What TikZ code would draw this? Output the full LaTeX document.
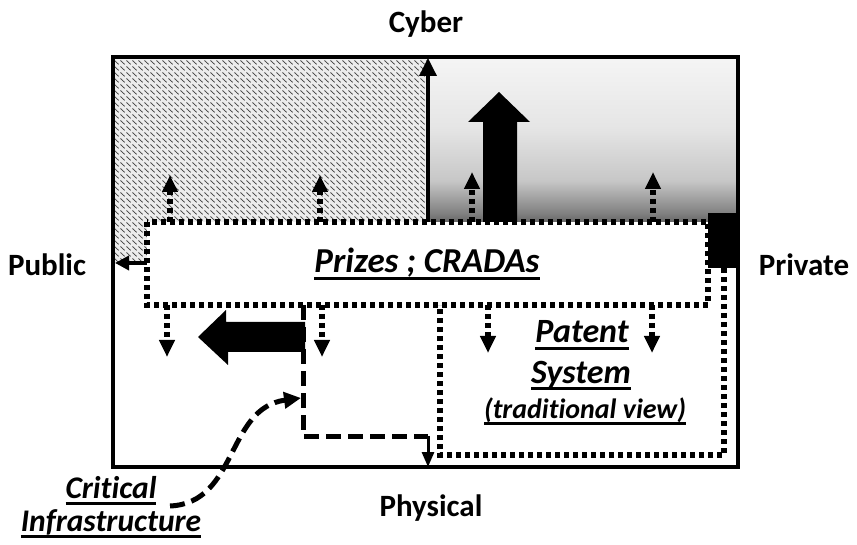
\documentclass[tikz,border=0pt]{standalone}
\usepackage{fontspec}
\setmainfont{Carlito}[Ligatures=NoCommon]
\usetikzlibrary{arrows.meta,patterns}

% wavy texture for the public/cyber quadrant
\pgfdeclarepatternformonly{squiggle}{\pgfpointorigin}{\pgfpoint{6pt}{6pt}}{\pgfpoint{6pt}{6pt}}{%
  \pgfsetlinewidth{0.9pt}%
  \pgfpathmoveto{\pgfpoint{0.5pt}{5.2pt}}%
  \pgfpathcurveto{\pgfpoint{2.2pt}{5.6pt}}{\pgfpoint{1.8pt}{2.6pt}}{\pgfpoint{3pt}{3pt}}%
  \pgfpathcurveto{\pgfpoint{4.2pt}{3.4pt}}{\pgfpoint{3.8pt}{0.4pt}}{\pgfpoint{5.5pt}{0.8pt}}%
  \pgfusepath{stroke}%
}

% dark band rising from the private/cyber quadrant floor
\pgfdeclareverticalshading{cybergrad}{100bp}{%
  color(0bp)=(black); color(24bp)=(black); color(30bp)=(black!85);
  color(37bp)=(black!50); color(45bp)=(black!22); color(58bp)=(black!10);
  color(75bp)=(black!4); color(88bp)=(white); color(100bp)=(white)}

% thick underline at a fixed depth below the baseline
\newcommand\ulbar[1]{\setbox0\hbox{#1}\rlap{\vrule height -4pt depth 7pt width \wd0}\box0}

\tikzset{
  axislbl/.style={font=\fontsize{31}{36}\selectfont\bfseries, inner sep=0pt, anchor=base},
  boxlbl/.style={font=\fontsize{34}{40}\selectfont\bfseries\itshape, inner sep=0pt, anchor=base},
  smalllbl/.style={font=\fontsize{28}{32}\selectfont\bfseries\itshape, inner sep=0pt, anchor=base},
  dotline/.style={line width=5.5pt, dash pattern=on 5pt off 4pt},
  dotarrow/.style={dotline, -{Triangle[width=15pt,length=17pt]}},
  dashline/.style={line width=5pt, dash pattern=on 15pt off 7pt},
  axisline/.style={line width=3.5pt},
  blockarrow/.style={fill=black, draw=none},
}

\begin{document}
\begin{tikzpicture}[x=1pt,y=-1pt]
\useasboundingbox (0,0) rectangle (857,545);

% quadrant backgrounds
\fill[gray!15] (113,57) rectangle (428,263);
\fill[pattern=squiggle, pattern color=black!75] (113,57) rectangle (428,263);
\shade[shading=cybergrad] (428,57) rectangle (738,263);
\fill[black] (708,213) rectangle (738,268);

% main frame
\draw[line width=3.5pt] (113,57) rectangle (738,467);

% big upward arrow
\fill[blockarrow] (483,222) -- (483,122) -- (468,122) -- (499,92) -- (530,122)
  -- (517,122) -- (517,222) -- cycle;

% cyber axis and public axis
\coordinate (axtop0) at (428,222);
\coordinate (axtop) at (428,58);
\draw[axisline, -{Triangle[width=17pt,length=18pt]}] (axtop0) -- (axtop);
\coordinate (axleft0) at (147,263);
\coordinate (axleft) at (115,263);
\draw[axisline, -{Triangle[width=14pt,length=14pt]}] (axleft0) -- (axleft);

% Prizes ; CRADAs box
\fill[white] (147,222) rectangle (708,305);
\draw[dotline] (147,222) rectangle (708,305);

% Patent system box
\draw[dotline] (724,268) -- (724,455) -- (440,455) -- (440,305);

% dotted arrows up
\coordinate (ua1) at (170,222); \coordinate (ub1) at (170,175);
\coordinate (ua2) at (320,222); \coordinate (ub2) at (320,175);
\coordinate (ua3) at (472,222); \coordinate (ub3) at (472,172);
\coordinate (ua4) at (653,222); \coordinate (ub4) at (653,172);
\foreach \i in {1,...,4} \draw[dotarrow] (ua\i) -- (ub\i);

% dotted arrows down
\coordinate (da1) at (167,305); \coordinate (db1) at (167,357);
\coordinate (da2) at (322,305); \coordinate (db2) at (322,357);
\coordinate (da3) at (488,305); \coordinate (db3) at (488,353);
\coordinate (da4) at (652,305); \coordinate (db4) at (652,353);
\foreach \i in {1,...,4} \draw[dotarrow] (da\i) -- (db\i);

% big leftward arrow
\fill[blockarrow] (305,322) -- (226,322) -- (226,310) -- (198,337) -- (228,365)
  -- (228,352) -- (305,352) -- cycle;

% critical infrastructure path
\coordinate (ci0) at (303,305);
\coordinate (ci1) at (303,436);
\coordinate (ci2) at (428,436);
\coordinate (axbot) at (428,467);
\draw[dashline] (ci0) -- (ci1) -- (ci2);
\draw[line width=3pt, -{Triangle[width=12pt,length=15pt]}] (ci2) -- (axbot);

% labels
\node[axislbl] (cyber) at (426,33) {Cyber};
\node[axislbl] (public) at (47,276) {Public};
\node[axislbl] (private) at (804,276) {Private};
\node[axislbl] (physical) at (431,516) {Physical};
\node[boxlbl, font=\fontsize{35}{40}\selectfont\bfseries\itshape] (prizes) at (427,273) {\ulbar{Prizes ; CRADAs}};
\node[boxlbl] (patent) at (582,343) {\ulbar{Patent}};
\node[boxlbl] (system) at (581,383) {\ulbar{System}};
\node[smalllbl] (trad) at (585,418) {\ulbar{(traditional view)}};
\node[boxlbl, font=\fontsize{31.5}{36}\selectfont\bfseries\itshape] (critical) at (111,498) {\ulbar{Critical}};
\node[boxlbl, font=\fontsize{31.5}{36}\selectfont\bfseries\itshape] (infra) at (111,531) {\ulbar{Infrastructure}};

% curved pointer from the label to the dashed path
\coordinate (cstart) at (170,506);
\coordinate (cend) at (301,398);
\draw[dashline, -{Triangle[width=16pt,length=17pt]}] (cstart) .. controls (238,503) and (226,408) .. (cend);
\end{tikzpicture}
\end{document}
